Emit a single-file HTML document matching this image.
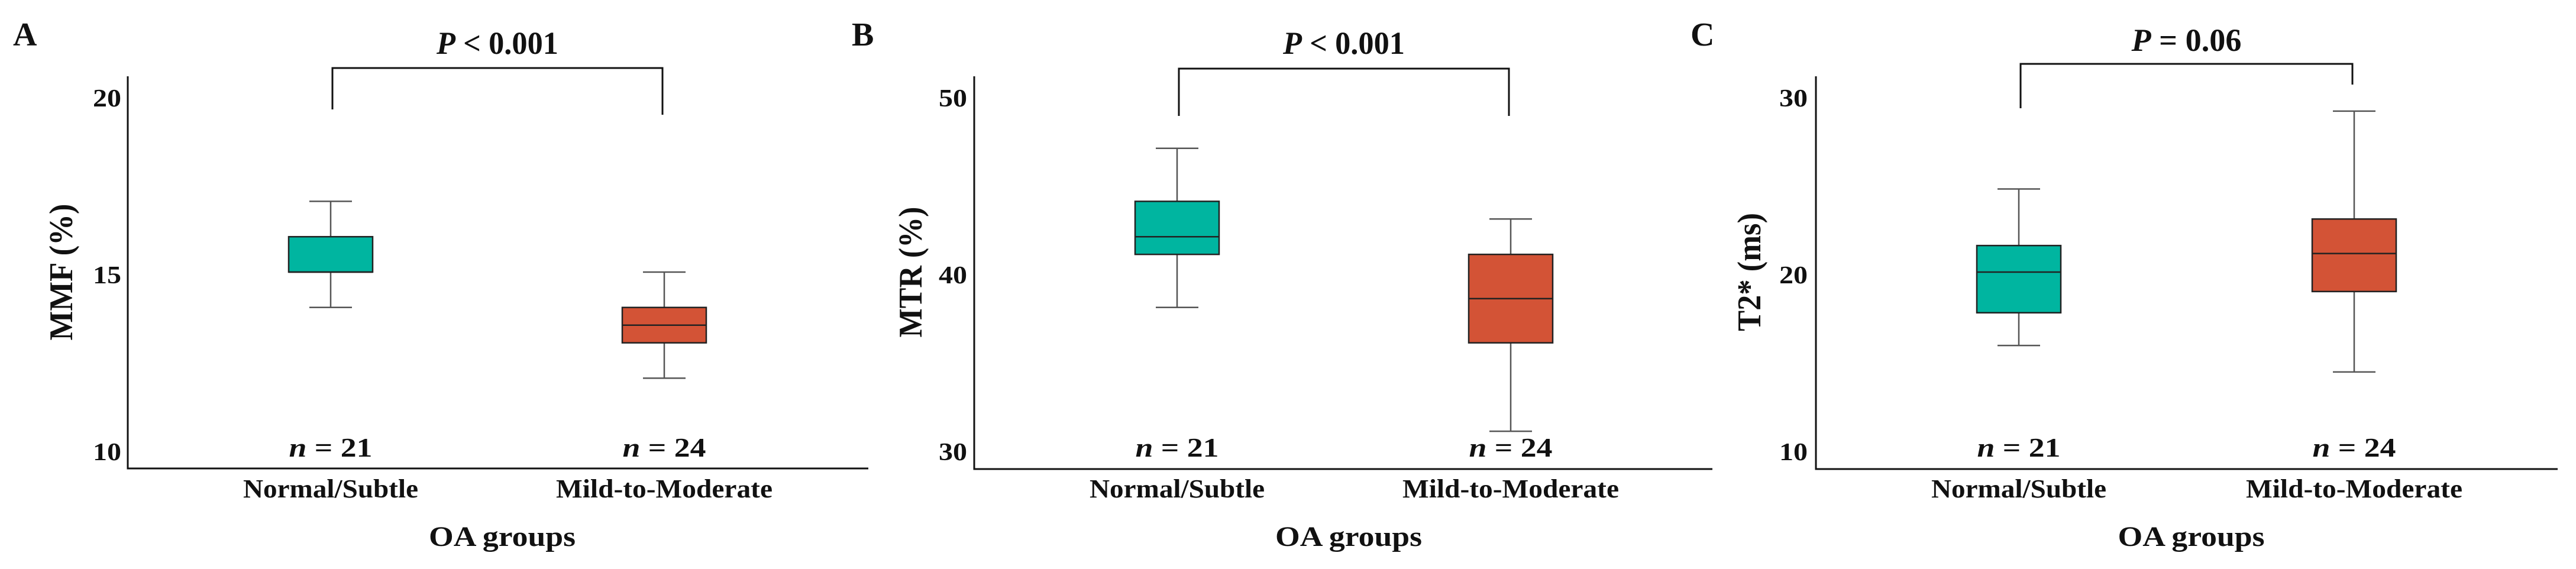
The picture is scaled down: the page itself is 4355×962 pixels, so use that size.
<!DOCTYPE html>
<html><head><meta charset="utf-8"><style>
html,body{margin:0;padding:0;background:#fff;overflow:hidden;}
svg{display:block;}
text{font-family:"Liberation Serif",serif;font-weight:bold;fill:#111;}
</style></head><body>
<svg id="fig" width="4355" height="962" viewBox="0 0 4355 962" xmlns="http://www.w3.org/2000/svg"></svg>
<script>
// ---- data ----
const categories = ["Normal/Subtle", "Mild-to-Moderate"];
const sampleSizes = ["21", "24"];
const panelLetters = ["A", "B", "C"];
const yTitles = ["MMF (%)", "MTR (%)", "T2* (ms)"];
const pLabels = ["< 0.001", "< 0.001", "= 0.06"];
const yTicksA = [10, 15, 20];
const yTicksB = [30, 40, 50];
const yTicksC = [10, 20, 30];
// [whiskerLow, q1, median, q3, whiskerHigh]
const normalA = [14, 15, 15, 16, 17];
const mildA = [12, 13, 13.5, 14, 15];
const normalB = [38, 41, 42, 44, 47];
const mildB = [31, 36, 38.5, 41, 43];
const normalC = [15.85, 17.7, 20, 21.5, 24.7];
const mildC = [14.35, 18.9, 21.05, 23, 29.1];

const NS = "http://www.w3.org/2000/svg";
const svg = document.getElementById("fig");
function mk(tag, attrs, parent) {
  const e = document.createElementNS(NS, tag);
  for (const k in attrs) e.setAttribute(k, attrs[k]);
  (parent || svg).appendChild(e);
  return e;
}
function txt(str, attrs, parent) { const t = mk("text", attrs, parent); t.textContent = str; return t; }

const layouts = [
  {axisX:216, right:1468, bottom:792, cx:[559,1123], letterX:22, tickR:205, titleX:102, brL:185, brR:194, brY:115, tLen:206, pY:91, tl:231},
  {axisX:1647, right:2895, bottom:793, cx:[1990,2554], letterX:1440, tickR:1635, titleX:1538, brL:196, brR:196, brY:116, tLen:206, pY:91, tl:221},
  {axisX:3070, right:4324, bottom:793, cx:[3413,3980], letterX:2858, tickR:3056, titleX:2956, brL:183, brR:143, brY:108, tLen:186, pY:86, tl:200}
];
const ticksAll = [yTicksA, yTicksB, yTicksC];
const seriesAll = [[normalA, mildA], [normalB, mildB], [normalC, mildC]];
const fills = ["#00b5a0", "#d35336"];
const Y_TOP = 161, Y_BOT = 759;

for (let p = 0; p < 3; p++) {
  const L = layouts[p];
  const ticks = ticksAll[p];
  const vmin = ticks[0], vmax = ticks[ticks.length - 1];
  const y = v => Y_BOT - (v - vmin) / (vmax - vmin) * (Y_BOT - Y_TOP);
  const g = mk("g", {});
  
  

  const letter = txt(panelLetters[p], {x: L.letterX, y: 77, "font-size": 56}, g);
  
  

  const yAxis = mk("line", {x1: L.axisX, y1: 129, x2: L.axisX, y2: L.bottom, stroke: "#111", "stroke-width": 3}, g);
  
  
  const xAxis = mk("line", {x1: L.axisX - 1.5, y1: L.bottom, x2: L.right, y2: L.bottom, stroke: "#111", "stroke-width": 3}, g);
  
  

  ticks.forEach(t => {
    const tl = txt(String(t), {x: L.tickR, y: y(t) + 19, "font-size": 42, "text-anchor": "end", textLength: 48, lengthAdjust: "spacingAndGlyphs"}, g);
    
    
  });

  const yt = txt(yTitles[p], {x: 0, y: 0, "font-size": 56, "text-anchor": "middle", textLength: L.tl, lengthAdjust: "spacingAndGlyphs", transform: `translate(${L.titleX + 20},460) rotate(-90)`}, g);
  
  

  const mid = (L.cx[0] + L.cx[1]) / 2;
  const xt = txt("OA groups", {x: mid + 8, y: 923, "font-size": 48, "text-anchor": "middle", textLength: 248, lengthAdjust: "spacingAndGlyphs"}, g);
  
  

  const br = mk("path", {d: `M${L.cx[0] + 3},${L.brL} V${L.brY} H${L.cx[1] - 3} V${L.brR}`, fill: "none", stroke: "#111", "stroke-width": 3}, g);
  
  
  const pt = txt("", {x: mid, y: L.pY, "font-size": 54, "text-anchor": "middle", textLength: L.tLen, lengthAdjust: "spacingAndGlyphs"}, g);
  const ts1 = mk("tspan", {"font-style": "italic"}, pt); ts1.textContent = "P";
  const ts2 = mk("tspan", {}, pt); ts2.textContent = " " + pLabels[p];
  
  

  for (let c = 0; c < 2; c++) {
    const s = seriesAll[p][c];
    const cx = L.cx[c];
    const bw = 142, cw = 72;
    const bg = mk("g", {}, g);
    
    
    mk("line", {x1: cx, y1: y(s[4]), x2: cx, y2: y(s[3]), stroke: "#555", "stroke-width": 2.5}, bg);
    mk("line", {x1: cx, y1: y(s[1]), x2: cx, y2: y(s[0]), stroke: "#555", "stroke-width": 2.5}, bg);
    mk("line", {x1: cx - cw / 2, y1: y(s[4]), x2: cx + cw / 2, y2: y(s[4]), stroke: "#555", "stroke-width": 2.5}, bg);
    mk("line", {x1: cx - cw / 2, y1: y(s[0]), x2: cx + cw / 2, y2: y(s[0]), stroke: "#555", "stroke-width": 2.5}, bg);
    mk("rect", {x: cx - bw / 2, y: y(s[3]), width: bw, height: y(s[1]) - y(s[3]), fill: fills[c], stroke: "#222", "stroke-width": 2.5}, bg);
    mk("line", {x1: cx - bw / 2, y1: y(s[2]), x2: cx + bw / 2, y2: y(s[2]), stroke: "#222", "stroke-width": 2.5}, bg);

    const nl = txt("", {x: cx, y: 772, "font-size": 46, "text-anchor": "middle", textLength: 141, lengthAdjust: "spacingAndGlyphs"}, g);
    const n1 = mk("tspan", {"font-style": "italic"}, nl); n1.textContent = "n";
    const n2 = mk("tspan", {}, nl); n2.textContent = " = " + sampleSizes[c];
    
    

    const cl = txt(categories[c], {x: cx, y: 841, "font-size": 44, "text-anchor": "middle", textLength: c === 0 ? 296 : 366, lengthAdjust: "spacingAndGlyphs"}, g);
    
    
  }
}
</script>
</body></html>
